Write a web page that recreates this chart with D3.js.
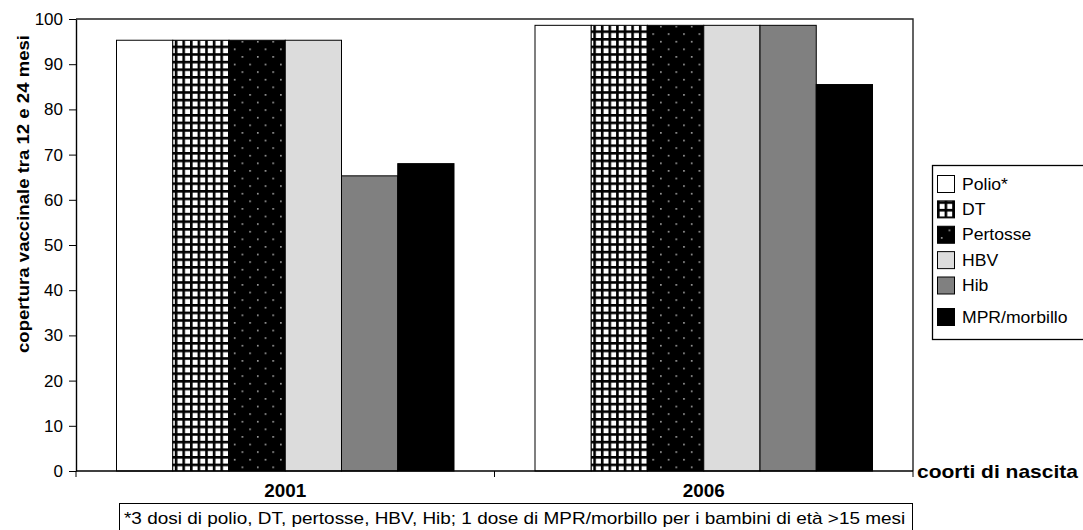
<!DOCTYPE html>
<html>
<head>
<meta charset="utf-8">
<script src="https://cdn.jsdelivr.net/npm/d3@7"></script>
<style>
  html, body { margin: 0; padding: 0; background: #fff; }
  svg { display: block; font-family: "Liberation Sans", Arial, sans-serif; }
</style>
</head>
<body>
<svg id="chart" width="1083" height="530"></svg>
<script>
// Coperture vaccinali per coorte di nascita
const years = ["2001", "2006"];
const vaccines = ["Polio*", "DT", "Pertosse", "HBV", "Hib", "MPR/morbillo"];
const values2001 = [95.3, 95.3, 95.3, 95.3, 65.3, 68.0];
const values2006 = [98.6, 98.6, 98.6, 98.6, 98.6, 85.5];
const yTicks = [0, 10, 20, 30, 40, 50, 60, 70, 80, 90, 100];
const yTitle = "copertura vaccinale tra 12 e 24 mesi";
const xTitle = "coorti di nascita";
const footnote = "*3 dosi di polio, DT, pertosse, HBV, Hib; 1 dose di MPR/morbillo per i bambini di età >15 mesi";

const seriesByYear = [values2001, values2006];
const rows = years.map((y, i) => ({ year: y, values: vaccines.map((v, j) => ({ key: v, value: seriesByYear[i][j] })) }));

const svg = d3.select("#chart");
const plot = { left: 76, top: 19, right: 913, bottom: 471 };

// horizontally widened text, anchored at (x, y)
function wideText(sel, x, y, sx) {
  return sel.attr("transform", `translate(${x},${y}) scale(${sx},1)`);
}

// fills: solid greys plus two patterns
const defs = svg.append("defs");
const grid = defs.append("pattern").attr("id", "grid")
  .attr("patternUnits", "userSpaceOnUse").attr("width", 7.6).attr("height", 7.6);
grid.append("rect").attr("width", 7.6).attr("height", 7.6).attr("fill", "#fff");
grid.append("rect").attr("x", 0).attr("y", 0).attr("width", 2.6).attr("height", 7.6).attr("fill", "#000");
grid.append("rect").attr("x", 0).attr("y", 0).attr("width", 7.6).attr("height", 2.6).attr("fill", "#000");

const dots = defs.append("pattern").attr("id", "dots")
  .attr("patternUnits", "userSpaceOnUse").attr("width", 15.4).attr("height", 15.2);
dots.append("rect").attr("width", 15.4).attr("height", 15.2).attr("fill", "#000");
dots.append("rect").attr("x", 4).attr("y", 3).attr("width", 1.4).attr("height", 1.4).attr("fill", "#ddd");
dots.append("rect").attr("x", 11.7).attr("y", 10.6).attr("width", 1.4).attr("height", 1.4).attr("fill", "#ddd");

const fills = ["#ffffff", "url(#grid)", "url(#dots)", "#dcdcdc", "#808080", "#000000"];
const color = d3.scaleOrdinal().domain(vaccines).range(fills);

const x0 = d3.scaleBand().domain(years).range([plot.left, plot.right]).padding(0);
const x1 = d3.scaleBand().domain(vaccines).range([0, x0.bandwidth()]).paddingInner(0).paddingOuter(0.72);
const y = d3.scaleLinear().domain([0, 100]).range([plot.bottom, plot.top]);

// plot frame (top and right)
svg.append("path")
  .attr("d", `M${plot.left},${plot.top}H${plot.right}V${plot.bottom}`)
  .attr("fill", "none").attr("stroke", "#222").attr("stroke-width", 1.4);

// bars
const groups = svg.append("g").selectAll("g").data(rows).join("g")
  .attr("transform", d => `translate(${x0(d.year)},0)`);
groups.selectAll("rect").data(d => d.values).join("rect")
  .attr("x", d => x1(d.key))
  .attr("y", d => y(d.value))
  .attr("width", x1.bandwidth())
  .attr("height", d => y(0) - y(d.value))
  .attr("fill", d => color(d.key))
  .attr("stroke", "#000").attr("stroke-width", 1);

// y axis
const yAxis = svg.append("g").attr("transform", `translate(${plot.left},0)`)
  .call(d3.axisLeft(y).tickValues(yTicks).tickSize(7).tickPadding(6).tickSizeOuter(0));
yAxis.select(".domain").attr("stroke", "#000").attr("stroke-width", 1.4);
yAxis.selectAll(".tick line").attr("stroke", "#000");
yAxis.selectAll(".tick text").attr("font-size", 17).attr("fill", "#000")
  .attr("font-family", "Liberation Sans, Arial, sans-serif");

// x axis: ticks at band boundaries, labels centred under groups
const xAxisG = svg.append("g").attr("transform", `translate(0,${plot.bottom})`);
xAxisG.append("line").attr("x1", plot.left).attr("x2", plot.right)
  .attr("stroke", "#000").attr("stroke-width", 1.4);
const bounds = years.map(yr => x0(yr)).concat([x0(years[years.length - 1]) + x0.bandwidth()]);
xAxisG.selectAll("line.tk").data(bounds).join("line").attr("class", "tk")
  .attr("x1", d => d).attr("x2", d => d).attr("y1", 0).attr("y2", 6)
  .attr("stroke", "#000");
xAxisG.selectAll("text.lbl").data(years).join("text").attr("class", "lbl")
  .attr("text-anchor", "middle").attr("font-size", 17.5).attr("font-weight", "bold")
  .each(function (d) { wideText(d3.select(this), x0(d) + x0.bandwidth() / 2, 25.5, 1.08); })
  .text(d => d);

// axis titles
svg.append("text")
  .attr("transform", `translate(29,194) rotate(-90)`)
  .attr("text-anchor", "middle").attr("font-size", 17).attr("font-weight", "bold")
  .attr("textLength", 318).attr("lengthAdjust", "spacingAndGlyphs")
  .text(yTitle);
wideText(svg.append("text"), 917, 478, 1.2)
  .attr("font-size", 17.5).attr("font-weight", "bold").text(xTitle);

// footnote box
const fn = svg.append("g");
fn.append("rect").attr("x", 119.5).attr("y", 503.5).attr("width", 793).attr("height", 30)
  .attr("fill", "#fff").attr("stroke", "#000").attr("stroke-width", 1);
wideText(fn.append("text"), 124, 524, 1.185).attr("font-size", 16).text(footnote);

// legend
const lg = svg.append("g");
lg.append("rect").attr("x", 932.5).attr("y", 165.5).attr("width", 160).attr("height", 174)
  .attr("fill", "#fff").attr("stroke", "#000").attr("stroke-width", 1.3);
const legY = d3.scalePoint().domain(vaccines.slice(0, 5)).range([183.5, 285]);
const rowY = k => (k === vaccines[5] ? 316.5 : legY(k));
const items = lg.selectAll("g").data(vaccines).join("g")
  .attr("transform", d => `translate(937,${rowY(d)})`);
items.append("rect").attr("x", 0.5).attr("y", -8).attr("width", 17).attr("height", 17)
  .attr("fill", d => color(d)).attr("stroke", "#000").attr("stroke-width", 1);
items.append("text").attr("font-size", 16)
  .each(function () { wideText(d3.select(this), 25, 6, 1.1); })
  .text(d => d);
</script>
</body>
</html>
